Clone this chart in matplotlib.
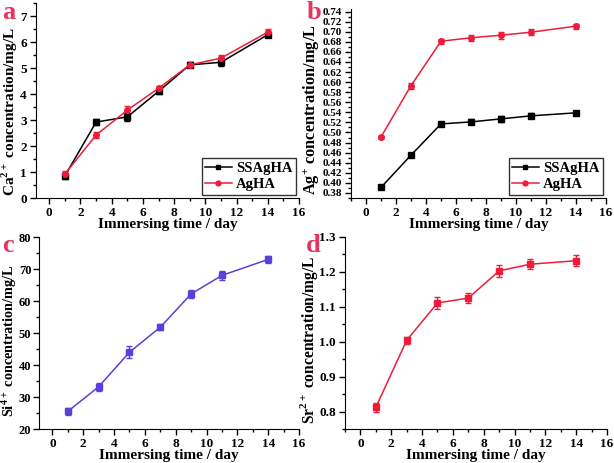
import matplotlib
matplotlib.use("Agg")
import matplotlib.pyplot as plt
from matplotlib.ticker import MultipleLocator, AutoMinorLocator, FormatStrFormatter
from matplotlib.lines import Line2D

plt.rcParams['font.family'] = ['Liberation Serif', 'DejaVu Serif']
plt.rcParams['font.weight'] = 'bold'
plt.rcParams['mathtext.fontset'] = 'custom'
plt.rcParams['mathtext.rm'] = 'Liberation Serif:bold'
plt.rcParams['mathtext.bf'] = 'Liberation Serif:bold'

days = [1, 3, 5, 7, 9, 11, 14]

# panel a - Ca2+
ca_ss = [0.85, 2.92, 3.12, 4.10, 5.12, 5.22, 6.28]
ca_ss_err = [0.10, 0.10, 0.15, 0.10, 0.10, 0.15, 0.10]
ca_ag = [0.92, 2.42, 3.38, 4.22, 5.12, 5.38, 6.38]
ca_ag_err = [0.10, 0.10, 0.15, 0.10, 0.10, 0.12, 0.12]

# panel b - Ag+
ag_ss = [0.391, 0.455, 0.517, 0.521, 0.527, 0.533, 0.539]
ag_ss_err = [0.003, 0.003, 0.004, 0.005, 0.006, 0.005, 0.004]
ag_ag = [0.491, 0.593, 0.681, 0.688, 0.693, 0.699, 0.711]
ag_ag_err = [0.003, 0.006, 0.005, 0.006, 0.007, 0.006, 0.005]

# panel c - Si4+
si = [25.5, 33.2, 44.0, 51.8, 62.2, 68.0, 73.0]
si_err = [1.2, 1.2, 1.8, 1.0, 1.3, 1.3, 1.0]

# panel d - Sr2+
sr = [0.812, 1.004, 1.111, 1.125, 1.203, 1.222, 1.232]
sr_err = [0.012, 0.010, 0.016, 0.014, 0.018, 0.015, 0.016]

RED = '#ee1c3a'
PURPLE = '#5b3fdc'
LETTER = '#e8335e'
XLAB = 11

fig = plt.figure(figsize=(6.14, 4.63), dpi=100)
W, H = 614, 463

def make_ax(l, r, t, b, ysize=9.5):
    ax = fig.add_axes([l / W, 1 - b / H, (r - l) / W, (b - t) / H])
    ax.spines['top'].set_visible(False)
    ax.spines['right'].set_visible(False)
    ax.tick_params(direction='out', length=4, width=1, labelsize=9.5, pad=2.5)
    ax.tick_params(axis='y', labelsize=ysize)
    ax.tick_params(which='minor', direction='out', length=2.5, width=1)
    ax.xaxis.set_major_locator(MultipleLocator(2))
    ax.xaxis.set_minor_locator(AutoMinorLocator(2))
    ax.yaxis.set_minor_locator(AutoMinorLocator(2))
    ax.set_xlabel('Immersing time / day', fontsize=XLAB, fontweight='bold', labelpad=-0.5)
    return ax

def set_ylab(ax, text, size, right_px, l, r, ycen):
    ax.set_ylabel(text, fontsize=size, fontweight='bold')
    ax.yaxis.set_label_coords((right_px - l) / (r - l), ycen)

def add_legend(ax):
    handles = [Line2D([], [], color='black', marker='s', lw=1.1, markersize=3.5),
               Line2D([], [], color=RED, marker='o', lw=1.1, markersize=3.5)]
    leg = ax.legend(handles, ['SSAgHA', 'AgHA'], loc='lower right', frameon=True,
                    fancybox=False, edgecolor='black', handlelength=1.8,
                    borderpad=0.25, labelspacing=0.2, handletextpad=0.3,
                    borderaxespad=0.2, prop={'weight': 'bold', 'size': 10.5})
    leg.get_frame().set_linewidth(1)

kw = dict(capsize=2.2, elinewidth=1, capthick=1, lw=1.1, markersize=4)

# a
ax = make_ax(36, 299, 3, 198)
ax.errorbar(days, ca_ss, yerr=ca_ss_err, color='black', marker='s', **kw)
ax.errorbar(days, ca_ag, yerr=ca_ag_err, color=RED, marker='o', **kw)
ax.set_xlim(-0.85, 16)
ax.set_ylim(0, 7.5)
ax.yaxis.set_major_locator(MultipleLocator(1))
set_ylab(ax, 'Ca$^{2+}$ concentration/mg/L', 11, 20, 36, 299, 0.444)
add_legend(ax)
fig.text(2 / W, 1 - 19 / H, 'a', color=LETTER, fontsize=19, fontweight='bold')

# b
ax = make_ax(351, 606, 9, 198, ysize=8)
ax.errorbar(days, ag_ss, yerr=ag_ss_err, color='black', marker='s', **kw)
ax.errorbar(days, ag_ag, yerr=ag_ag_err, color=RED, marker='o', **kw)
ax.set_xlim(-1, 16)
ax.set_ylim(0.37, 0.745)
ax.yaxis.set_major_locator(MultipleLocator(0.02))
ax.yaxis.set_major_formatter(FormatStrFormatter('%.2f'))
set_ylab(ax, 'Ag$^{+}$ concentration/mg/L', 11.8, 322, 351, 606, 0.47)
add_legend(ax)
fig.text(307 / W, 1 - 19 / H, 'b', color=LETTER, fontsize=19, fontweight='bold')

# c
ax = make_ax(39, 299, 237, 429, ysize=9)
ax.tick_params(axis='y', pad=1.5)
ax.errorbar(days, si, yerr=si_err, color=PURPLE, marker='s', **kw)
ax.set_xlim(-0.87, 16)
ax.set_ylim(20, 80)
ax.yaxis.set_major_locator(MultipleLocator(10))
set_ylab(ax, 'Si$^{4+}$ concentration/mg/L', 10.3, 19, 39, 299, 0.46)
fig.text(2 / W, 1 - 252 / H, 'c', color=LETTER, fontsize=19, fontweight='bold')

# d
ax = make_ax(345, 607, 237, 429)
ax.errorbar(days, sr, yerr=sr_err, color=RED, marker='s', **kw)
ax.set_xlim(-1, 16)
ax.set_ylim(0.75, 1.3)
ax.yaxis.set_major_locator(MultipleLocator(0.1))
ax.yaxis.set_major_formatter(FormatStrFormatter('%.1f'))
set_ylab(ax, 'Sr$^{2+}$ concentration/mg/L', 11.2, 320, 345, 607, 0.465)
fig.text(306 / W, 1 - 252 / H, 'd', color=LETTER, fontsize=19, fontweight='bold')

fig.savefig('out.png', dpi=100)
